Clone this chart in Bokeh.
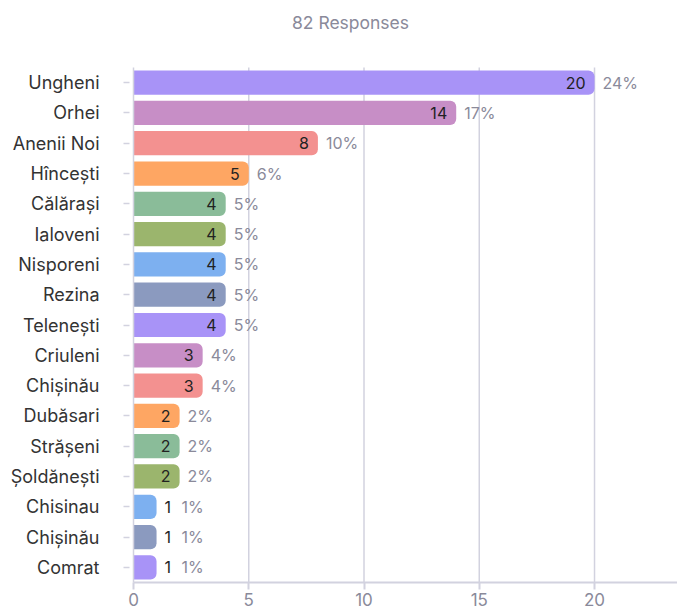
from bokeh.plotting import figure
from bokeh.models import ColumnDataSource, Range1d, FixedTicker
from bokeh.core.properties import value
from bokeh.embed import file_html
from bokeh.resources import INLINE

title_text = "82 Responses"
total = 82
categories = ["Ungheni", "Orhei", "Anenii Noi", "Hîncești", "Călărași", "Ialoveni",
              "Nisporeni", "Rezina", "Telenești", "Criuleni", "Chișinău", "Dubăsari",
              "Strășeni", "Șoldănești", "Chisinau", "Chișinău", "Comrat"]
counts = [20, 14, 8, 5, 4, 4, 4, 4, 4, 3, 3, 2, 2, 2, 1, 1, 1]
palette = ["#a893f7", "#c78ec6", "#f39190", "#fea663", "#8abc99", "#9bb56d", "#7db0f0", "#8b9abf"]
x_ticks = [0, 5, 10, 15, 20]

FONT = "Inter"
W, H = 677, 608
LEFT, BOTTOM = 133, 26          # borders (px)
BAND_TOP = 67                   # px where the bar area starts
TITLE_CX, TITLE_CY = 350, 22    # title centre (px)
X_MAX = 23.6

n = len(categories)
ypos = list(range(n))
colors = [palette[i % len(palette)] for i in range(n)]
pcts = [f"{round(c / total * 100)}%" for c in counts]

frame_h = H - BOTTOM
px_per_row = (frame_h - BAND_TOP) / n
y_top = -0.5 - BAND_TOP / px_per_row
px_per_x = (W - LEFT) / X_MAX

p = figure(width=W, height=H, output_backend="svg", toolbar_location=None,
           title_location=None,
           x_range=Range1d(0, X_MAX), y_range=Range1d(n - 0.5, y_top),
           min_border_left=LEFT, min_border_right=0, min_border_top=0, min_border_bottom=BOTTOM)
p.outline_line_color = None
p.background_fill_color = "white"

# grid lines (only across the bar area)
p.xgrid.grid_line_color = None
p.ygrid.grid_line_color = None
p.segment(x0=x_ticks[1:], x1=x_ticks[1:], y0=-0.5, y1=n - 0.5,
          line_color="#d2d2df", line_width=1.5)

src = ColumnDataSource(dict(y=ypos, x=counts, color=colors))
p.hbar(y="y", right="x", left=0, height=0.8, fill_color="color", line_color=None,
       border_radius=(0, 6, 6, 0), source=src)

inside = [i for i in range(n) if counts[i] >= 2]
outside = [i for i in range(n) if counts[i] < 2]
src_in = ColumnDataSource(dict(y=[ypos[i] for i in inside], x=[counts[i] for i in inside],
                               t=[str(counts[i]) for i in inside], pct=[pcts[i] for i in inside]))
src_out = ColumnDataSource(dict(y=[ypos[i] for i in outside], x=[counts[i] for i in outside],
                                t=[str(counts[i]) for i in outside], pct=[pcts[i] for i in outside]))

common = dict(text_font=value(FONT), text_font_size="16px", text_baseline="middle")
p.text(x="x", y="y", text="t", source=src_in, text_align="right", x_offset=-9,
       text_color="#222222", **common)
p.text(x="x", y="y", text="pct", source=src_in, text_align="left", x_offset=8,
       text_color="#8a8a9a", **common)
p.text(x="x", y="y", text="t", source=src_out, text_align="left", x_offset=8,
       text_color="#222222", **common)
p.text(x="x", y="y", text="pct", source=src_out, text_align="left", x_offset=25,
       text_color="#8a8a9a", **common)

# title drawn inside the (extended) frame
p.text(x=[(TITLE_CX - LEFT) / px_per_x], y=[y_top + TITLE_CY / px_per_row], text=[title_text],
       text_align="center", text_baseline="middle", text_font=value(FONT),
       text_font_size="17.5px", text_color="#8a8a9a")

# axes
p.xaxis.ticker = FixedTicker(ticks=x_ticks)
p.xaxis.axis_line_color = "#d2d2df"
p.xaxis.axis_line_width = 2
p.xaxis.major_tick_line_color = "#d2d2df"
p.xaxis.major_tick_line_width = 2
p.xaxis.major_tick_out = 7
p.xaxis.major_tick_in = 0
p.xaxis.minor_tick_line_color = None
p.xaxis.major_label_standoff = 3
p.xaxis.major_label_text_font = FONT
p.xaxis.major_label_text_font_size = "17px"
p.xaxis.major_label_text_color = "#8a8a9a"

p.yaxis.ticker = FixedTicker(ticks=ypos)
p.yaxis.bounds = (-0.5, n - 0.5)
p.yaxis.major_label_overrides = {i: categories[i] for i in ypos}
p.yaxis.axis_line_color = "#d2d2df"
p.yaxis.axis_line_width = 1.5
p.yaxis.major_tick_line_color = "#d2d2df"
p.yaxis.major_tick_line_width = 1.5
p.yaxis.major_tick_out = 10
p.yaxis.major_tick_in = -4
p.yaxis.minor_tick_line_color = None
p.yaxis.major_label_standoff = 24
p.yaxis.major_label_text_font = FONT
p.yaxis.major_label_text_font_size = "18px"
p.yaxis.major_label_text_color = "#333333"

open("out.html", "w").write(file_html(p, INLINE))
